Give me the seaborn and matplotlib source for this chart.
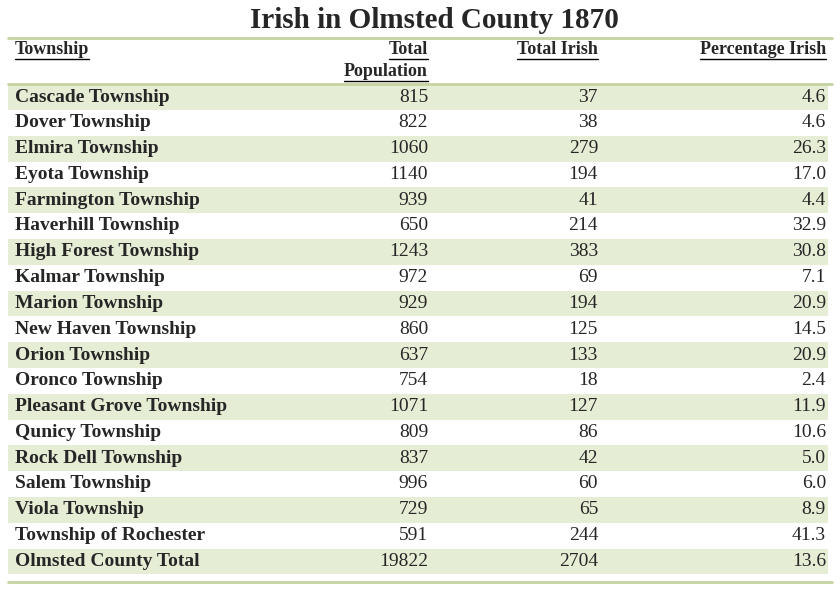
import seaborn as sns
import matplotlib.pyplot as plt

# table data
townships = ["Cascade Township", "Dover Township", "Elmira Township", "Eyota Township",
             "Farmington Township", "Haverhill Township", "High Forest Township",
             "Kalmar Township", "Marion Township", "New Haven Township", "Orion Township",
             "Oronco Township", "Pleasant Grove Township", "Qunicy Township",
             "Rock Dell Township", "Salem Township", "Viola Township",
             "Township of Rochester", "Olmsted County Total"]
total_population = [815, 822, 1060, 1140, 939, 650, 1243, 972, 929, 860, 637, 754,
                    1071, 809, 837, 996, 729, 591, 19822]
total_irish = [37, 38, 279, 194, 41, 214, 383, 69, 194, 125, 133, 18, 127, 86, 42,
               60, 65, 244, 2704]
pct_irish = [4.6, 4.6, 26.3, 17.0, 4.4, 32.9, 30.8, 7.1, 20.9, 14.5, 20.9, 2.4, 11.9,
             10.6, 5.0, 6.0, 8.9, 41.3, 13.6]

sns.set_theme(style="white", font="Liberation Serif")
fig = plt.figure(figsize=(8.4, 5.89), dpi=100)
ax = fig.add_axes([0, 0, 1, 1])
ax.set_xlim(0, 840)
ax.set_ylim(589, 0)
ax.axis("off")

stripe = "#e6edd5"
rule = "#c5d3a0"
row0 = 97
step = 25.8
n = len(townships)

# striped rows
ys = [row0 + i * step for i in range(n)]
shade = [y for i, y in enumerate(ys) if i % 2 == 0]
ax.barh(shade, [820] * len(shade), left=8, height=step, color=stripe, edgecolor="none")

ax.text(434, 20, "Irish in Olmsted County 1870", ha="center", va="center",
        fontsize=21, fontweight="bold")
ax.plot([8, 832], [38, 38], color=rule, lw=2)
ax.plot([8, 832], [84, 84], color=rule, lw=2)
ax.plot([8, 832], [582, 582], color=rule, lw=2)

# headers (underlined to text width)
renderer = fig.canvas.get_renderer()
inv = ax.transData.inverted()
def header(x, y, s, ha):
    t = ax.text(x, y, s, ha=ha, va="center", fontsize=13, fontweight="bold")
    bb = t.get_window_extent(renderer)
    (x0, _), (x1, _) = inv.transform([[bb.x0, bb.y0], [bb.x1, bb.y1]])
    ax.plot([x0, x1], [y + 9, y + 9], color="black", lw=1)

header(15, 50, "Township", "left")
header(428, 50, "Total", "right")
header(428, 72, "Population", "right")
header(598, 50, "Total Irish", "right")
header(826, 50, "Percentage Irish", "right")

for y, t, p, ti, pc in zip(ys, townships, total_population, total_irish, pct_irish):
    ax.text(15, y, t, ha="left", va="center", fontsize=14, fontweight="bold")
    ax.text(428, y, str(p), ha="right", va="center", fontsize=14)
    ax.text(598, y, str(ti), ha="right", va="center", fontsize=14)
    ax.text(826, y, f"{pc:.1f}", ha="right", va="center", fontsize=14)

fig.savefig("out.png", dpi=100)
